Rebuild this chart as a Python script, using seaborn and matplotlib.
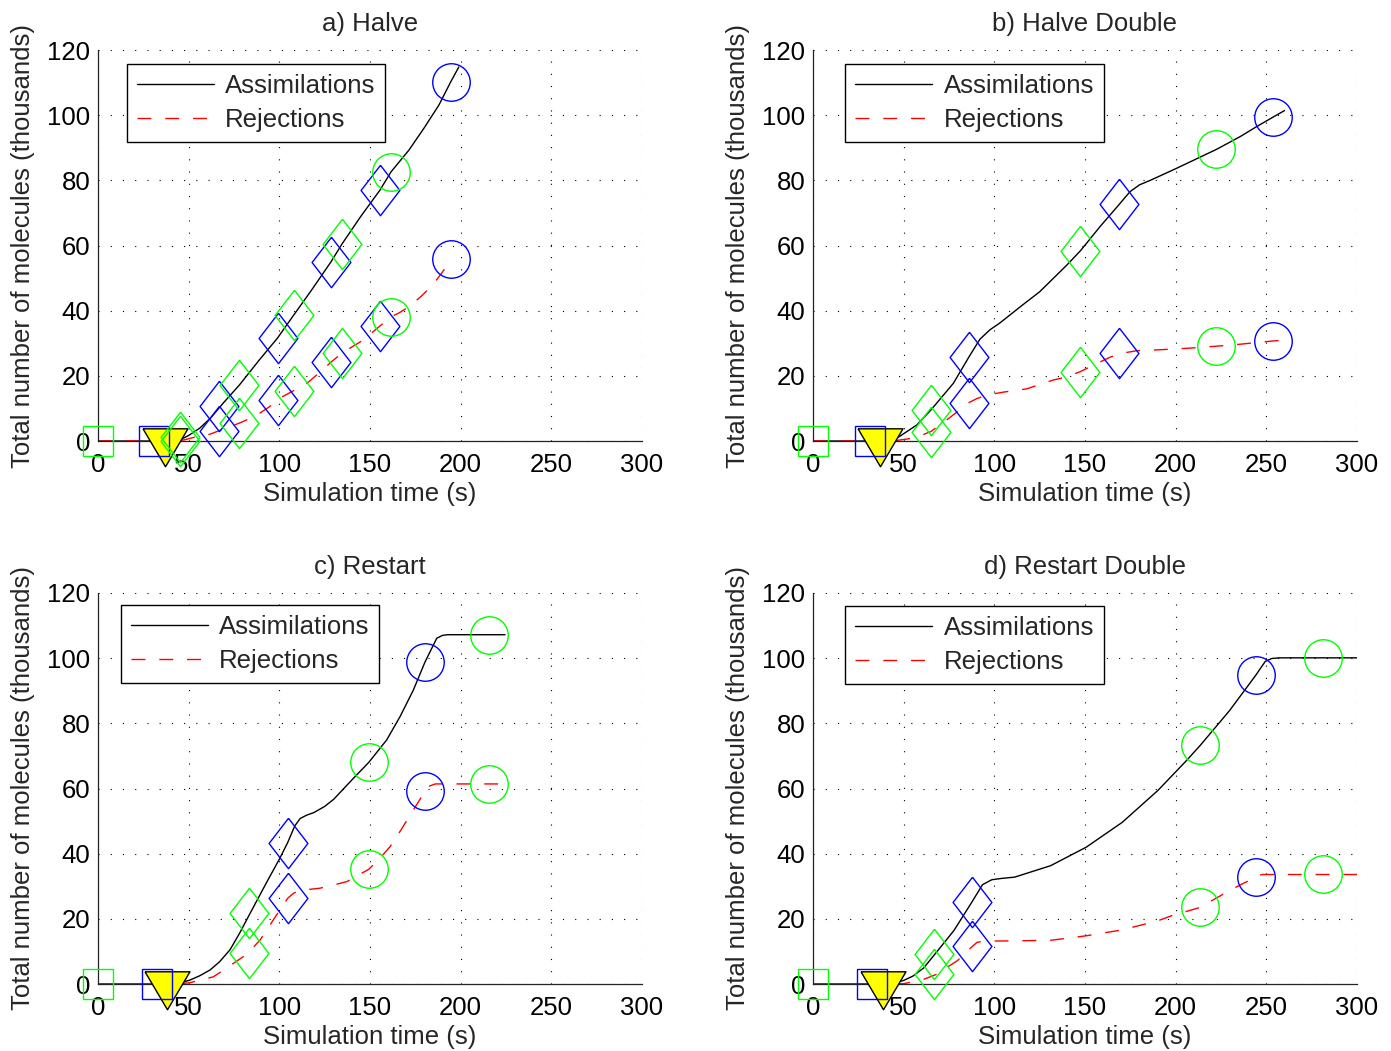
import seaborn as sns
import matplotlib.pyplot as plt
from matplotlib.ticker import MultipleLocator

# ---- panel a) Halve ----
a_assim_t = [0, 38, 45, 50, 56, 62, 69, 78, 89, 99, 108, 118, 128.5, 134.6, 145, 155.5, 161.6, 171.5, 180, 188, 194.5, 199]
a_assim_y = [0, 0, 0.3, 1.7, 3.9, 7.0, 11.6, 17.2, 24.9, 31.6, 38.7, 46.5, 55.0, 60.5, 69.0, 77.0, 82.6, 89.3, 96.2, 103.1, 110.2, 114.8]
a_rej_t = [0, 44, 48, 53.5, 61.8, 67, 78, 87, 94.5, 100.4, 107.7, 115, 122.4, 128.5, 134.6, 146.3, 155.5, 161.6, 166, 172, 179, 185, 190, 194.5]
a_rej_y = [0, 0, 0.4, 1.2, 2.1, 3.2, 5.5, 7.7, 10.5, 13.2, 15.4, 17.6, 21.1, 24.2, 27.0, 31.0, 35.3, 38.1, 39.3, 41.4, 44.8, 48.2, 51.9, 55.5]
a_ev_t = [0, 31.1, 37.2, 45, 67, 78, 99, 108, 128.5, 134.6, 155.5, 161.6, 194.5]
a_ev_kind = ["gs", "bs", "tri", "gd", "bd", "gd", "bd", "gd", "bd", "gd", "bd", "go", "bo"]
a_ev_assim = [0, 0, 0, 1.2, 10.7, 17.2, 31.6, 38.7, 55.0, 60.5, 77.0, 82.6, 110.2]
a_ev_rej = [0, 0, 0, 0, 3.1, 5.5, 12.6, 15.3, 24.2, 27.0, 35.3, 38.1, 55.9]

# ---- panel b) Halve Double ----
b_assim_t = [0, 38, 44, 48, 57.2, 65, 77.4, 86, 92, 97.5, 103, 115, 125, 140, 147.5, 158.3, 169, 174.8, 180, 186, 198.6, 210, 222.5, 235.5, 245, 253.7, 260]
b_assim_y = [0, 0, 0.3, 1.5, 4.9, 9.5, 17.7, 25.8, 31.2, 34.1, 36.2, 41.5, 45.8, 54.0, 58.4, 65.8, 72.7, 76.5, 78.6, 80.0, 83.2, 86.2, 89.5, 93.4, 96.6, 99.4, 101.4]
b_rej_t = [0, 44, 54.4, 60, 65, 75, 86, 90.3, 95.8, 105, 117.8, 132.4, 140, 147.5, 155, 163.8, 169, 178.5, 187.7, 208, 222.5, 235.5, 253.7, 258.5]
b_rej_y = [0, 0, 0.8, 1.8, 2.9, 7.0, 11.8, 13.0, 14.1, 15.0, 16.0, 18.7, 19.7, 21.3, 23.4, 25.7, 26.8, 27.7, 27.9, 28.5, 29.1, 29.7, 30.7, 30.9]
b_ev_t = [0, 31.3, 36.7, 65, 86, 147.5, 169, 222.5, 253.7]
b_ev_kind = ["gs", "bs", "tri", "gd", "bd", "gd", "bd", "go", "bo"]
b_ev_assim = [0, 0, 0, 9.5, 25.8, 58.4, 72.7, 89.5, 99.4]
b_ev_rej = [0, 0, 0, 2.9, 11.8, 21.3, 27.0, 29.3, 30.8]

# ---- panel c) Restart ----
c_assim_t = [0, 40, 45, 50.7, 56, 61.8, 67, 72.8, 78, 83.5, 93, 100, 104.6, 108.5, 111.5, 115, 119, 125, 130, 140.8, 149.3, 159.2, 166.6, 173.9, 180.4, 186.8, 190, 193, 224.5]
c_assim_y = [0, 0, 0.3, 1.2, 2.5, 4.3, 6.8, 10.5, 15.5, 21.3, 31.2, 38.3, 43.4, 48.5, 50.8, 51.8, 52.6, 54.5, 56.7, 63.1, 68.0, 74.9, 82.1, 90.2, 98.9, 106.1, 107.0, 107.2, 107.2]
c_rej_t = [0, 44, 50.7, 63.6, 72, 80.1, 83.5, 89.4, 98.5, 104.6, 107.7, 111, 122.4, 137.2, 149.3, 155, 161, 167, 173.9, 180.4, 183, 186, 224.5]
c_rej_y = [0, 0, 0.4, 2.2, 5.3, 8.4, 10.0, 13.5, 21.2, 26.3, 27.8, 28.7, 29.4, 31.4, 35.2, 38.3, 42.1, 47.2, 53.4, 59.2, 60.8, 61.4, 61.4]
c_ev_t = [0, 32.6, 38.3, 83.5, 104.6, 149.3, 180.4, 215.8]
c_ev_kind = ["gs", "bs", "tri", "gd", "bd", "go", "bo", "go"]
c_ev_assim = [0, 0, 0, 21.9, 43.4, 68.0, 98.9, 107.2]
c_ev_rej = [0, 0, 0, 9.6, 26.3, 35.2, 59.2, 61.4]

# ---- panel d) Restart Double ----
d_assim_t = [0, 40, 45, 50, 55, 61, 67, 77.7, 87.8, 93.5, 98.6, 104, 111.2, 131, 150.7, 170.5, 190.2, 206, 213.5, 229.7, 244.1, 249.4, 253, 257.3, 300]
d_assim_y = [0, 0, 0.3, 1.1, 2.4, 4.9, 9.0, 16.4, 25.3, 30.5, 32.0, 32.4, 32.8, 36.3, 42.0, 49.6, 59.4, 68.6, 73.2, 83.9, 94.7, 99.0, 99.9, 100.1, 100.1]
d_rej_t = [0, 44, 50, 60, 67.8, 79.7, 87.8, 90.5, 95, 103.4, 131, 150.7, 170.5, 190.2, 198, 213.5, 229.7, 244.1, 247.4, 300]
d_rej_y = [0, 0, 0.1, 1.2, 2.9, 7.2, 11.5, 12.8, 13.2, 13.2, 13.4, 14.8, 16.6, 19.4, 21.0, 23.5, 28.7, 32.8, 33.6, 33.6]
d_ev_t = [0, 32.4, 38.4, 67, 87.7, 213.5, 244.1, 281]
d_ev_kind = ["gs", "bs", "tri", "gd", "bd", "go", "bo", "go"]
d_ev_assim = [0, 0, 0, 9.3, 25.3, 73.2, 94.7, 100.1]
d_ev_rej = [0, 0, 0, 3.0, 11.6, 23.5, 32.8, 33.8]

titles = ["a) Halve", "b) Halve Double", "c) Restart", "d) Restart Double"]

FS = 18.5
sns.set_style("white")
plt.rcParams["font.family"] = ["Liberation Sans", "DejaVu Sans"]
plt.rcParams["font.size"] = FS
plt.rcParams["lines.dashed_pattern"] = [10, 10]

# marker shapes, MATLAB-like (triangle centred on its centroid, tall diamond)
tri_verts = [(-22.5, 12.7), (22.5, 12.7), (0, -25.3), (-22.5, 12.7)]
dia_verts = [(0, 25.2), (19.4, 0), (0, -25.2), (-19.4, 0), (0, 25.2)]
marker_style = {
    "gs": dict(marker="s", ms=21.5, mfc="none", mec="#00ff00", zorder=4),
    "bs": dict(marker="s", ms=21.5, mfc="none", mec="#0000ff", zorder=4),
    "tri": dict(marker=tri_verts, ms=36.4, mfc="#ffff00", mec="k", zorder=3),
    "gd": dict(marker=dia_verts, ms=36.3, mfc="none", mec="#00ff00", zorder=4),
    "bd": dict(marker=dia_verts, ms=36.3, mfc="none", mec="#0000ff", zorder=4),
    "go": dict(marker="o", ms=27, mfc="none", mec="#00ff00", zorder=4),
    "bo": dict(marker="o", ms=27, mfc="none", mec="#0000ff", zorder=4),
}

panels = [
    (a_assim_t, a_assim_y, a_rej_t, a_rej_y, a_ev_t, a_ev_kind, a_ev_assim, a_ev_rej),
    (b_assim_t, b_assim_y, b_rej_t, b_rej_y, b_ev_t, b_ev_kind, b_ev_assim, b_ev_rej),
    (c_assim_t, c_assim_y, c_rej_t, c_rej_y, c_ev_t, c_ev_kind, c_ev_assim, c_ev_rej),
    (d_assim_t, d_assim_y, d_rej_t, d_rej_y, d_ev_t, d_ev_kind, d_ev_assim, d_ev_rej),
]

W, H = 1391, 1051
ax_pos = [(98, 50), (813, 50), (98, 593), (813, 593)]  # left, top in pixels
legend_anchor = [(0.053, 0.964), (0.059, 0.964), (0.042, 0.969), (0.059, 0.967)]

fig = plt.figure(figsize=(W / 100, H / 100), dpi=100)

for i, (at, ay, rt, ry, et, ek, ea, er) in enumerate(panels):
    left, top = ax_pos[i]
    ax = fig.add_axes([left / W, 1 - (top + 391) / H, 544 / W, 391 / H])

    sns.lineplot(x=at, y=ay, ax=ax, color="k", lw=1.0, label="Assimilations", zorder=2)
    sns.lineplot(x=rt, y=ry, ax=ax, color="#ff0000", lw=1.0, linestyle="--",
                 label="Rejections", zorder=2)

    for t, kind, va, vr in zip(et, ek, ea, er):
        ys = [va] if va == vr else [va, vr]
        for yv in ys:
            ax.plot([t], [yv], linestyle="none", mew=1.0, clip_on=False, **marker_style[kind])

    ax.set_xlim(0, 300)
    ax.set_ylim(0, 120)
    ax.xaxis.set_major_locator(MultipleLocator(50))
    ax.xaxis.set_minor_locator(MultipleLocator(5))
    ax.yaxis.set_major_locator(MultipleLocator(20))
    ax.yaxis.set_minor_locator(MultipleLocator(4))
    ax.tick_params(which="both", direction="in", top=False, right=False, colors="k", labelsize=FS)
    ax.tick_params(which="major", length=4, width=0.8)
    ax.tick_params(which="minor", length=2, width=0.6)
    ax.tick_params(axis="x", pad=8.5)
    ax.tick_params(axis="y", pad=5.5)
    ax.grid(True, which="major", color="k", linestyle=(0, (1, 10)), linewidth=0.8)
    ax.set_axisbelow(True)
    for s in ["top", "right"]:
        ax.spines[s].set_visible(False)
    for s in ["left", "bottom"]:
        ax.spines[s].set_color("#222222")
        ax.spines[s].set_linewidth(0.9)

    ax.set_title(titles[i], fontsize=FS, pad=14)
    ax.set_xlabel("Simulation time (s)", fontsize=FS)
    ax.set_ylabel("Total number of molecules (thousands)", fontsize=FS)
    ax.xaxis.set_label_coords(0.5, -0.105)
    ax.yaxis.set_label_coords(-0.116, 0.5)

    leg = ax.legend(loc="upper left", bbox_to_anchor=legend_anchor[i], borderaxespad=0,
                    fontsize=FS, frameon=True, fancybox=False, framealpha=1,
                    handlelength=3.0, handletextpad=0.45, labelspacing=0.4, borderpad=0.38)
    leg.get_frame().set_edgecolor("k")
    leg.get_frame().set_linewidth(1.0)

fig.savefig("out.png", dpi=100)
